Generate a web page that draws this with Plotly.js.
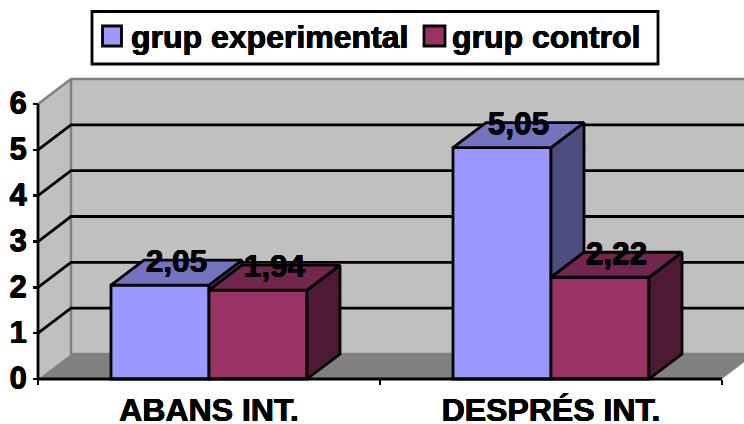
<!DOCTYPE html>
<html><head><meta charset="utf-8">
<script src="https://cdn.plot.ly/plotly-3.0.1.min.js"></script>
<style>html,body{margin:0;padding:0;background:#fff}</style></head>
<body><div id="chart" style="width:744px;height:424px"></div>
<script>
const categories = ["ABANS INT.", "DESPRÉS INT."];
const seriesNames = ["grup experimental", "grup control"];
const experimental = [2.05, 5.05];
const control = [1.94, 2.22];
const valueLabels = [["2,05", "5,05"], ["1,94", "2,22"]];
const yTicks = [0, 1, 2, 3, 4, 5, 6];
const frontColors = ["#9999FF", "#993366"];
const topColors = ["#7373BF", "#73264D"];
const sideColors = ["#4D4D80", "#4D1933"];

const W = 744, H = 424, FONT = "Liberation Sans, Arial, sans-serif";
const X0 = 38, XUNIT = 342, Y0 = 379, YUNIT = 45.83;
const DX = 33 / XUNIT, DY = 25 / YUNIT;
const BW = 98 / XUNIT;
const XMIN = -0.5, XMAX = 1.5, YMAX = 6;
const LW = 2.8;
const xRange = [XMIN - X0 / XUNIT, XMIN + (W - X0) / XUNIT];
const yRange = [-(H - Y0) / YUNIT, Y0 / YUNIT];
const idx = categories.map((_, i) => i);
const series = [experimental, control];
const SHADOW = "0.4px 0 0 #000, -0.4px 0 0 #000, 0 0.4px 0 #000, 0 -0.4px 0 #000";
const txtFont = s => ({family: FONT, size: s, color: "#000", weight: 700, shadow: SHADOW});

function poly(xs, ys, fill, name) {
  return {type: "scatter", mode: "lines", x: xs.concat(xs[0]), y: ys.concat(ys[0]), fill: "toself",
    fillcolor: fill, line: {color: "#000", width: LW}, hoverinfo: "skip", showlegend: false, name: name};
}

const traces = series.map((vals, s) => ({
  type: "bar", name: seriesNames[s], x: idx, y: vals, width: BW, offset: s === 0 ? -BW : 0, showlegend: false,
  marker: {color: frontColors[s], line: {color: "#000", width: LW}}
}));

idx.forEach(i => {
  series.forEach((vals, s) => {
    const l = i + (s === 0 ? -BW : 0), r = l + BW, v = vals[i];
    const next = s === 0 ? control[i] : 0;
    if (v > next) traces.push(poly([r, r + DX, r + DX, r], [next, next + DY, v + DY, v], sideColors[s], "side"));
    traces.push(poly([l, l + DX, r + DX, r], [v, v + DY, v + DY, v], topColors[s], "top"));
  });
});
series.forEach((vals, s) => {
  traces.push({type: "scatter", mode: "text", showlegend: false, hoverinfo: "skip",
    x: idx.map(i => i + (s === 0 ? -BW / 2 : BW / 2) + DX / 2),
    y: vals.map(v => v + DY - 4 / YUNIT), text: valueLabels[s], textposition: "middle center", textfont: txtFont(31.5)});
});

const wallEdge = {color: "#808080", width: 2.5};
const shapes = [
  {type: "path", layer: "below", xref: "x", yref: "y", fillcolor: "#C0C0C0", line: {width: 0},
   path: `M${XMIN},0L${XMIN + DX},${DY}L${XMIN + DX},${YMAX + DY}L${XMIN},${YMAX}Z`},
  {type: "path", layer: "below", xref: "x", yref: "y", fillcolor: "#C0C0C0", line: {width: 0},
   path: `M${XMIN + DX},${DY}L${XMAX + DX},${DY}L${XMAX + DX},${YMAX + DY}L${XMIN + DX},${YMAX + DY}Z`},
  {type: "path", layer: "below", xref: "x", yref: "y", fillcolor: "#808080", line: {width: 0},
   path: `M${XMIN},0L${XMIN + DX},${DY}L${XMAX + DX},${DY}L${XMAX},0Z`},
  {type: "path", layer: "below", xref: "x", yref: "y", line: wallEdge,
   path: `M${XMIN},${YMAX}L${XMIN + DX},${YMAX + DY}L${XMAX + DX},${YMAX + DY}M${XMIN + DX},${YMAX + DY}L${XMIN + DX},${DY}L${XMAX + DX},${DY}`}
];
yTicks.filter(t => t > 0 && t < YMAX).forEach(t => shapes.push(
  {type: "path", layer: "below", xref: "x", yref: "y", line: {color: "#000", width: LW},
   path: `M${XMIN},${t}L${XMIN + DX},${t + DY}L${XMAX + DX},${t + DY}`}));
shapes.push({type: "line", layer: "above", xref: "x", yref: "y", x0: XMIN, x1: XMIN, y0: 0, y1: YMAX, line: {color: "#000", width: LW}});
shapes.push({type: "line", layer: "above", xref: "x", yref: "y", x0: XMIN, x1: XMAX, y0: 0, y1: 0, line: {color: "#000", width: LW}});

// legend drawn as a framed box with large swatches
const px = x => x / W, py = y => 1 - y / H;
shapes.push({type: "rect", xref: "paper", yref: "paper", layer: "above", x0: px(92), x1: px(658), y0: py(64), y1: py(11.5), fillcolor: "#fff", line: {color: "#000", width: LW}});
const legendSwatchX = [[102.5, 121.5], [424, 445]];
const legendTextX = [130, 451];
legendSwatchX.forEach((sx, s) => shapes.push({type: "rect", xref: "paper", yref: "paper", layer: "above",
  x0: px(sx[0]), x1: px(sx[1]), y0: py(46), y1: py(26), fillcolor: frontColors[s], line: {color: "#000", width: LW}}));
const annotations = seriesNames.map((n, s) => ({xref: "paper", yref: "paper", x: px(legendTextX[s]), y: py(37.5),
  xanchor: "left", yanchor: "middle", showarrow: false, text: n, font: txtFont(32), borderpad: 0}));

const layout = {
  width: W, height: H, margin: {l: 0, r: 0, t: 0, b: 0}, paper_bgcolor: "#fff", plot_bgcolor: "rgba(0,0,0,0)",
  barmode: "overlay", shapes: shapes, annotations: annotations, showlegend: false,
  xaxis: {type: "linear", range: xRange, anchor: "free", position: (H - Y0) / H, showgrid: false, zeroline: false, showline: false,
    tickmode: "array", tickvals: idx, ticktext: categories, ticks: "", tickfont: txtFont(32), ticklabelstandoff: 9,
    minor: {tickmode: "array", tickvals: [XMIN, (XMIN + XMAX) / 2, XMAX], ticks: "outside", ticklen: 5, tickwidth: 2.5, tickcolor: "#000", showgrid: false}},
  yaxis: {range: yRange, anchor: "free", position: X0 / W, showgrid: false, zeroline: false, showline: false,
    tickmode: "array", tickvals: yTicks, ticks: "outside", ticklen: 5, tickwidth: 2.5, tickcolor: "#000", tickfont: txtFont(31), ticklabelshift: -1}
};
Plotly.newPlot("chart", traces, layout, {displayModeBar: false, staticPlot: true});
</script></body></html>
